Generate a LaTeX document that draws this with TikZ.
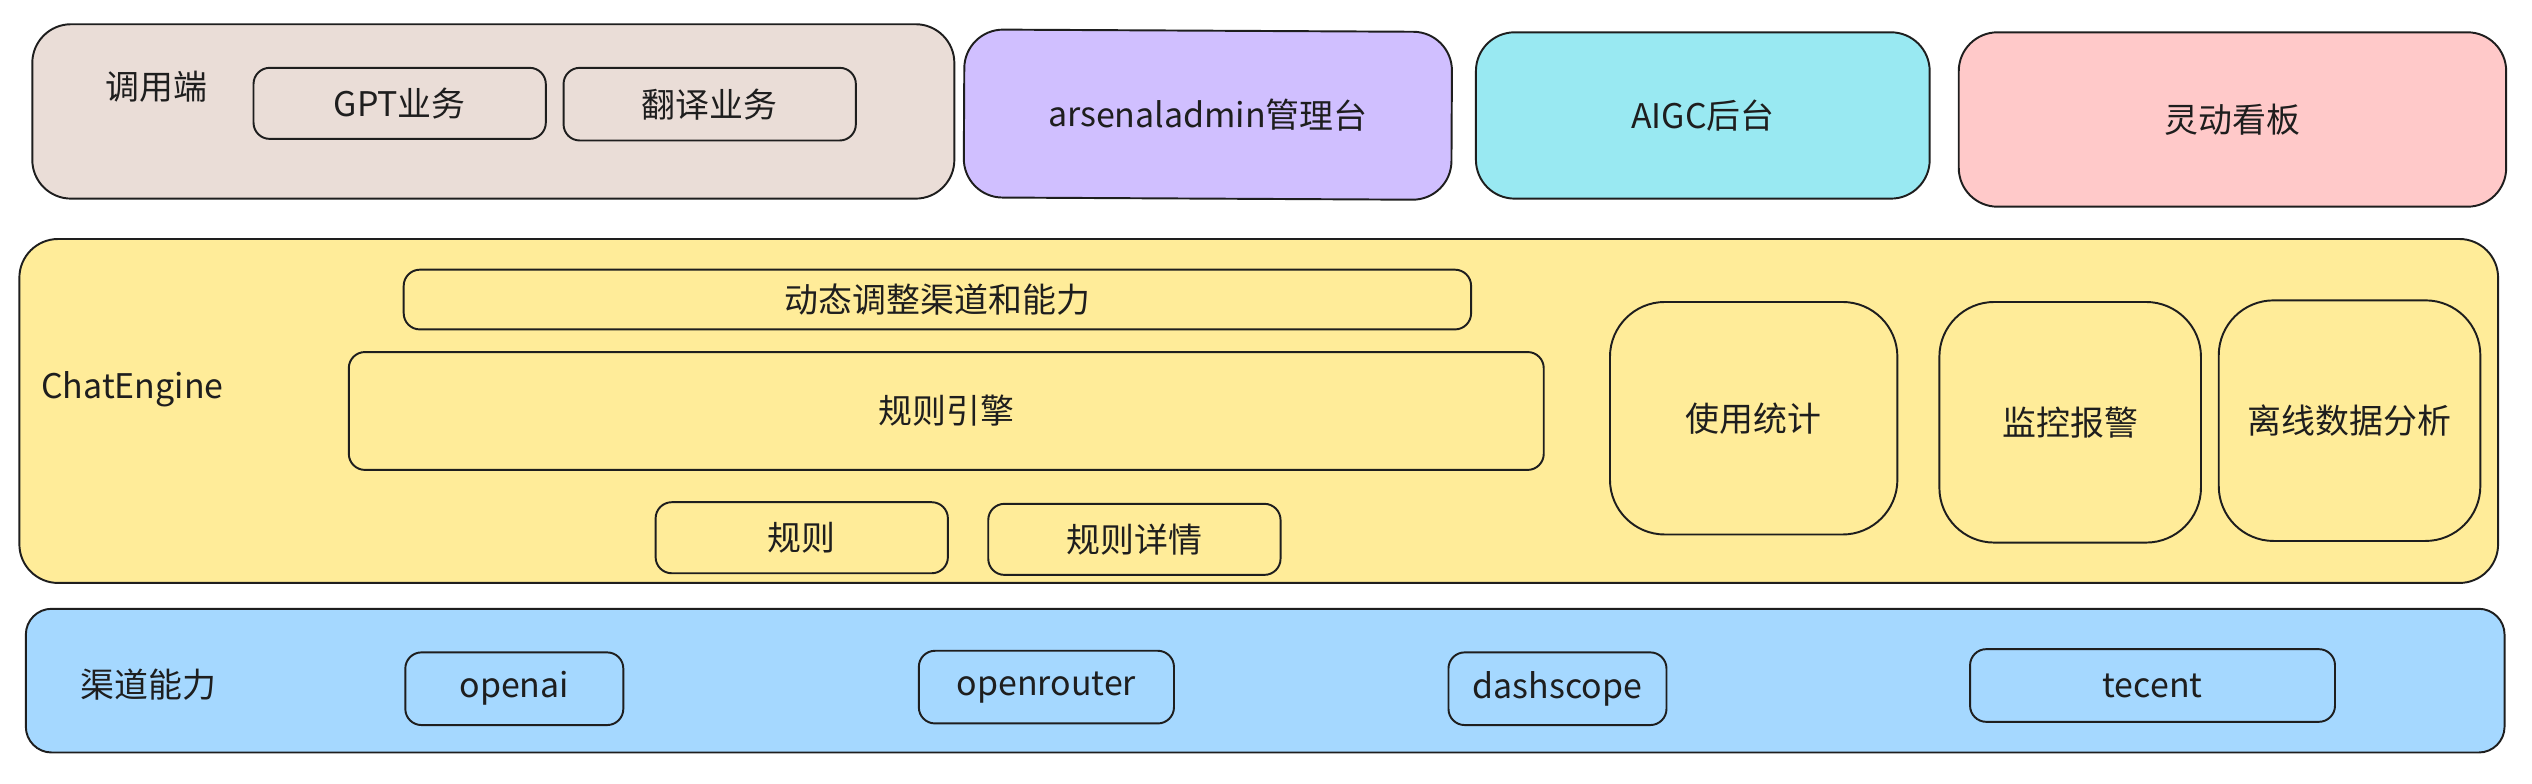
\documentclass[tikz,border=0pt]{standalone}
\usepackage{fontspec}
\setmainfont{Noto Sans CJK SC}
\definecolor{cbrown}{HTML}{EADDD7}
\definecolor{cpurple}{HTML}{D0BFFF}
\definecolor{ccyan}{HTML}{99E9F2}
\definecolor{cpink}{HTML}{FFC9C9}
\definecolor{cyellow}{HTML}{FFEC99}
\definecolor{cblue}{HTML}{A5D8FF}
\definecolor{cline}{HTML}{1E1E1E}
\tikzset{
  box/.style={draw=cline, line width=1.2pt, rounded corners=10pt, inner sep=0pt,
    font=\fontsize{21}{25}\selectfont, text=cline},
  bigbox/.style={box, rounded corners=24pt},
  tallbox/.style={box, rounded corners=34pt},
  lbl/.style={font=\fontsize{21}{25}\selectfont, text=cline, inner sep=0pt}
}
\begin{document}
\begin{tikzpicture}[x=1pt,y=-1pt]
\useasboundingbox (0,0) rectangle (1568,485.5);
% top row
\node[bigbox, fill=cbrown, minimum width=571pt, minimum height=108pt] (caller) at (305.5,69) {};
\node[lbl] (callerlbl) at (97,54) {调用端};
\node[box, minimum width=181pt, minimum height=44pt] (gpt) at (247.5,64) {GPT业务};
\node[box, minimum width=181pt, minimum height=45pt] (trans) at (439.5,64.5) {翻译业务};
\node[bigbox, fill=cpurple, minimum width=302pt, minimum height=104pt, rotate=-0.3] (admin) at (748,71) {arsenaladmin管理台};
\node[bigbox, fill=ccyan, minimum width=281pt, minimum height=103pt] (aigc) at (1054.5,71.5) {AIGC后台};
\node[bigbox, fill=cpink, minimum width=339pt, minimum height=108pt] (board) at (1382.5,74) {灵动看板};
% ChatEngine
\node[bigbox, fill=cyellow, minimum width=1535pt, minimum height=213pt] (chat) at (779.5,254.5) {};
\node[lbl] (chatlbl) at (82,241) {ChatEngine};
\node[box, minimum width=661pt, minimum height=37pt] (dyn) at (580.5,185.5) {动态调整渠道和能力};
\node[box, minimum width=740pt, minimum height=73pt] (engine) at (586,254.5) {规则引擎};
\node[box, minimum width=181pt, minimum height=44pt] (rule) at (496.5,333) {规则};
\node[box, minimum width=181pt, minimum height=44pt] (ruledet) at (702.5,334) {规则详情};
\node[tallbox, minimum width=178pt, minimum height=144pt] (usage) at (1086,259) {使用统计};
\node[tallbox, minimum width=162pt, minimum height=149pt] (monitor) at (1282,261.5) {监控报警};
\node[tallbox, minimum width=162pt, minimum height=149pt] (offline) at (1455,260.5) {离线数据分析};
% channels
\node[bigbox, fill=cblue, rounded corners=16pt, minimum width=1535pt, minimum height=89pt] (channel) at (783.5,421.5) {};
\node[lbl] (channellbl) at (92,424) {渠道能力};
\node[box, minimum width=135pt, minimum height=45pt] (openai) at (318.5,426.5) {openai};
\node[box, minimum width=158pt, minimum height=45pt] (openrouter) at (648,425.5) {openrouter};
\node[box, minimum width=135pt, minimum height=45pt] (dashscope) at (964.5,426.5) {dashscope};
\node[box, minimum width=226pt, minimum height=45pt] (tecent) at (1333,424.5) {tecent};
\end{tikzpicture}
\end{document}
